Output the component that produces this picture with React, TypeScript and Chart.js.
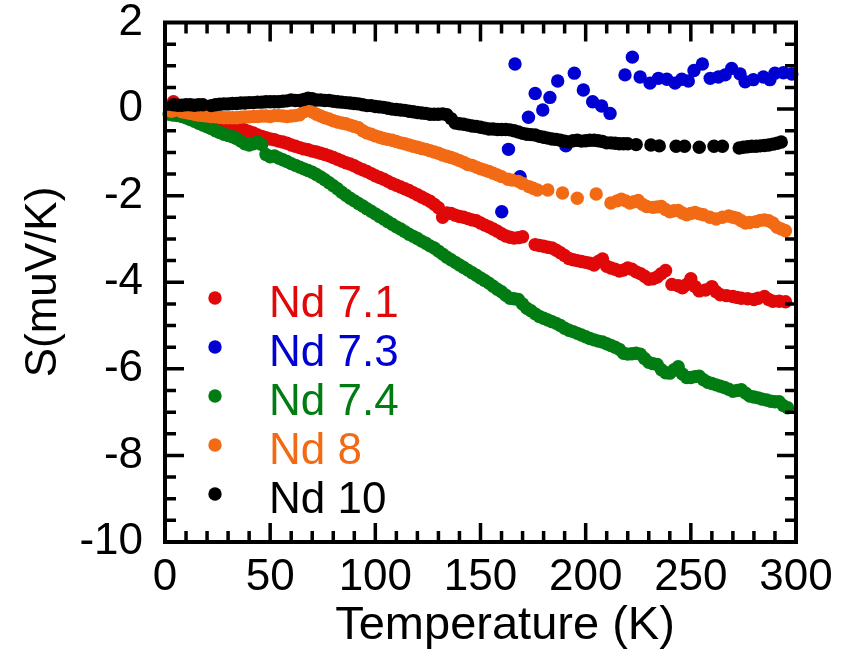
import React, { useEffect, useRef } from "react";
import { Chart, registerables } from "chart.js";

Chart.register(...registerables);

const FONT = "'Liberation Sans', Arial, Helvetica, sans-serif";

const seriesLabels = ["Nd 7.1", "Nd 7.3", "Nd 7.4", "Nd 8", "Nd 10"];
const seriesColors = ["#e00808", "#0000d2", "#007c12", "#f26b14", "#000000"];

const xTitle = "Temperature (K)";
const yTitle = "S(muV/K)";

// [Temperature (K), S (muV/K)]
const nd71: [number, number][] = [
  [4, 0.17], [6, 0.02], [8, -0.05], [10, -0.08], [12, -0.1], [14, -0.12], [16, -0.14], [18, -0.16],
  [20, -0.18], [22, -0.2], [24, -0.22], [26, -0.25], [28, -0.28], [30, -0.32], [32, -0.36], [34, -0.4],
  [36, -0.44], [38, -0.48], [40, -0.52], [42, -0.55], [44, -0.6], [46, -0.63], [48, -0.66], [50, -0.69],
  [52, -0.71], [54, -0.74], [56, -0.76], [58, -0.79], [60, -0.83], [62, -0.86], [64, -0.89], [66, -0.92],
  [68, -0.94], [70, -0.97], [72, -0.99], [74, -1.02], [76, -1.05], [78, -1.08], [80, -1.12], [82, -1.16],
  [84, -1.2], [86, -1.24], [88, -1.27], [90, -1.31], [92, -1.36], [94, -1.4], [96, -1.44], [98, -1.49],
  [100, -1.54], [102, -1.58], [104, -1.62], [106, -1.67], [108, -1.72], [110, -1.76], [112, -1.8], [114, -1.84],
  [116, -1.88], [118, -1.93], [120, -1.98], [122, -2.03], [124, -2.08], [126, -2.13], [128, -2.2], [130, -2.28],
  [132, -2.5], [134, -2.4], [136, -2.41], [138, -2.45], [140, -2.48], [142, -2.5], [144, -2.53], [146, -2.56],
  [148, -2.58], [150, -2.63], [152, -2.68], [154, -2.72], [156, -2.77], [158, -2.82], [160, -2.88], [162, -2.93],
  [164, -2.96], [166, -2.98], [168, -2.97], [170, -2.95], [176, -3.13], [178, -3.15], [180, -3.17], [182, -3.19],
  [184, -3.21], [186, -3.26], [188, -3.32], [190, -3.38], [192, -3.45], [194, -3.48], [196, -3.5], [198, -3.52],
  [200, -3.54], [202, -3.56], [204, -3.6], [206, -3.52], [208, -3.46], [210, -3.63], [212, -3.67], [214, -3.7],
  [216, -3.74], [218, -3.72], [220, -3.67], [222, -3.7], [224, -3.76], [226, -3.8], [228, -3.86], [230, -3.93],
  [232, -3.92], [234, -3.88], [236, -3.8], [238, -3.73], [241, -4.05], [244, -4.08], [246, -4.13], [248, -4.05],
  [250, -3.92], [252, -4.1], [254, -4.2], [257, -4.18], [260, -4.1], [262, -4.22], [264, -4.29], [267, -4.31],
  [270, -4.33], [272, -4.35], [274, -4.37], [277, -4.38], [280, -4.4], [282, -4.37], [285, -4.33], [287, -4.4],
  [289, -4.44], [292, -4.44], [295, -4.45],
];

const nd73: [number, number][] = [
  [160.1, -2.37], [163.3, -0.93], [166.4, 1.04], [168.8, -1.56], [172.8, -0.19], [176, 0.36], [179.6, -0.02],
  [183, 0.27], [186.7, 0.65], [190.6, -0.85], [194.6, 0.83], [198.9, 0.44], [203.3, 0.17], [207.6, 0.07],
  [211.6, -0.1], [218.7, 0.79], [222.2, 1.2], [225.9, 0.74], [230.6, 0.6], [234.6, 0.71], [238.6, 0.69],
  [242.5, 0.6], [245.7, 0.69], [248.8, 0.65], [251.5, 0.89], [255.5, 1.04], [259.2, 0.71], [263.1, 0.74],
  [266.3, 0.79], [269.4, 0.94], [273.4, 0.81], [275.8, 0.63], [279.7, 0.68], [284.5, 0.74], [287.6, 0.68],
  [290, 0.83], [294, 0.84], [298, 0.81],
];

const nd74: [number, number][] = [
  [2, -0.12], [4, -0.14], [6, -0.15], [8, -0.17], [10, -0.2], [12, -0.24], [14, -0.28], [16, -0.33],
  [18, -0.37], [20, -0.41], [22, -0.45], [24, -0.5], [26, -0.54], [28, -0.58], [30, -0.61], [32, -0.64],
  [34, -0.68], [36, -0.74], [38, -0.8], [40, -0.83], [42, -0.8], [44, -0.76], [46, -0.82], [48, -1.05],
  [50, -1.1], [52, -1.08], [54, -1.13], [56, -1.17], [58, -1.21], [60, -1.26], [62, -1.3], [64, -1.34],
  [66, -1.38], [68, -1.42], [70, -1.46], [72, -1.51], [74, -1.57], [76, -1.63], [78, -1.7], [80, -1.77],
  [82, -1.84], [84, -1.92], [86, -1.99], [88, -2.06], [90, -2.12], [92, -2.18], [94, -2.24], [96, -2.3],
  [98, -2.36], [100, -2.42], [102, -2.48], [104, -2.54], [106, -2.6], [108, -2.66], [110, -2.72], [112, -2.77],
  [114, -2.83], [116, -2.89], [118, -2.94], [120, -2.99], [122, -3.05], [124, -3.1], [126, -3.16], [128, -3.21],
  [130, -3.28], [132, -3.35], [134, -3.42], [136, -3.48], [138, -3.54], [140, -3.6], [142, -3.66], [144, -3.72],
  [146, -3.78], [148, -3.84], [150, -3.9], [152, -3.96], [154, -4.02], [156, -4.09], [158, -4.16], [160, -4.22],
  [162, -4.3], [164, -4.37], [166, -4.38], [168, -4.4], [170, -4.5], [172, -4.6], [174, -4.66], [176, -4.73],
  [178, -4.79], [180, -4.83], [182, -4.87], [184, -4.91], [186, -4.95], [188, -5.0], [190, -5.06], [192, -5.11],
  [194, -5.14], [196, -5.18], [198, -5.22], [200, -5.26], [202, -5.3], [204, -5.33], [206, -5.36], [208, -5.38],
  [210, -5.42], [212, -5.46], [214, -5.5], [216, -5.55], [218, -5.64], [220, -5.66], [222, -5.65], [224, -5.64],
  [226, -5.66], [228, -5.76], [230, -5.85], [232, -5.88], [234, -5.9], [236, -6.02], [238, -6.09], [240, -6.1],
  [242, -6.02], [244, -5.95], [246, -6.12], [248, -6.2], [250, -6.2], [252, -6.18], [254, -6.17], [256, -6.25],
  [258, -6.31], [260, -6.34], [262, -6.37], [264, -6.4], [266, -6.43], [268, -6.47], [270, -6.52], [272, -6.5],
  [274, -6.48], [276, -6.56], [278, -6.63], [280, -6.65], [282, -6.67], [284, -6.7], [286, -6.72], [288, -6.75],
  [290, -6.76], [292, -6.76], [294, -6.85], [296, -6.9],
];

const nd8: [number, number][] = [
  [3, -0.05], [5, -0.02], [8, -0.06], [10, -0.08], [12, -0.1], [14, -0.12], [16, -0.14], [18, -0.15],
  [20, -0.16], [22, -0.17], [24, -0.18], [26, -0.19], [28, -0.2], [30, -0.2], [32, -0.2], [34, -0.2],
  [36, -0.19], [38, -0.18], [40, -0.18], [42, -0.17], [44, -0.17], [46, -0.16], [48, -0.16], [50, -0.17],
  [52, -0.15], [54, -0.15], [56, -0.16], [58, -0.17], [60, -0.16], [62, -0.15], [64, -0.13], [66, -0.06],
  [68, -0.03], [70, -0.07], [72, -0.12], [74, -0.16], [76, -0.2], [78, -0.23], [80, -0.27], [82, -0.3],
  [84, -0.32], [86, -0.34], [88, -0.37], [90, -0.4], [92, -0.43], [94, -0.5], [96, -0.55], [98, -0.58],
  [100, -0.62], [102, -0.65], [104, -0.68], [106, -0.7], [108, -0.72], [110, -0.75], [112, -0.78], [114, -0.8],
  [116, -0.83], [118, -0.86], [120, -0.88], [122, -0.91], [124, -0.93], [126, -0.96], [128, -0.99], [130, -1.02],
  [132, -1.06], [134, -1.09], [136, -1.12], [138, -1.15], [140, -1.19], [142, -1.23], [144, -1.28], [146, -1.3],
  [148, -1.34], [150, -1.38], [152, -1.41], [154, -1.44], [156, -1.48], [158, -1.52], [160, -1.56], [163, -1.62],
  [165, -1.64], [168, -1.67], [170, -1.72], [173, -1.79], [175, -1.83], [177, -1.87], [182, -1.87], [189, -1.94],
  [196, -2.06], [205, -1.96], [212, -2.17], [215, -2.12], [217, -2.08], [219, -2.12], [221, -2.17], [223, -2.14],
  [225, -2.11], [227, -2.2], [229, -2.25], [232, -2.27], [234, -2.26], [236, -2.25], [238, -2.32], [240, -2.37],
  [242, -2.35], [244, -2.34], [246, -2.4], [248, -2.44], [250, -2.41], [252, -2.39], [254, -2.42], [256, -2.44],
  [259, -2.5], [262, -2.54], [265, -2.5], [268, -2.47], [270, -2.5], [272, -2.52], [274, -2.58], [276, -2.63],
  [278, -2.62], [281, -2.6], [283, -2.57], [285, -2.56], [287, -2.58], [289, -2.63], [291, -2.73], [293, -2.77],
  [295, -2.81],
];

const nd10: [number, number][] = [
  [4, 0.1], [6, 0.09], [8, 0.09], [10, 0.1], [12, 0.1], [14, 0.09], [16, 0.1], [18, 0.1],
  [22, 0.08], [24, 0.1], [26, 0.11], [28, 0.12], [30, 0.12], [32, 0.13], [34, 0.13], [36, 0.14],
  [38, 0.14], [40, 0.15], [42, 0.15], [44, 0.16], [46, 0.16], [48, 0.17], [50, 0.17], [52, 0.17],
  [54, 0.17], [56, 0.18], [58, 0.19], [60, 0.21], [62, 0.2], [64, 0.2], [66, 0.22], [68, 0.25],
  [70, 0.24], [72, 0.21], [74, 0.21], [76, 0.2], [78, 0.2], [80, 0.18], [82, 0.17], [84, 0.16],
  [86, 0.15], [88, 0.14], [90, 0.13], [92, 0.12], [94, 0.1], [96, 0.08], [98, 0.08], [100, 0.06],
  [102, 0.05], [104, 0.04], [106, 0.02], [108, 0.0], [110, -0.01], [112, -0.02], [114, -0.03], [116, -0.05],
  [118, -0.06], [120, -0.08], [122, -0.09], [124, -0.1], [126, -0.12], [128, -0.12], [130, -0.12], [132, -0.11],
  [134, -0.13], [136, -0.22], [138, -0.32], [140, -0.34], [142, -0.35], [144, -0.37], [146, -0.39], [148, -0.4],
  [150, -0.42], [152, -0.44], [154, -0.46], [156, -0.46], [158, -0.47], [160, -0.47], [162, -0.47], [164, -0.48],
  [166, -0.5], [168, -0.53], [170, -0.56], [172, -0.58], [174, -0.59], [176, -0.6], [178, -0.63], [180, -0.65],
  [182, -0.67], [184, -0.69], [186, -0.7], [188, -0.72], [190, -0.74], [192, -0.76], [194, -0.73], [196, -0.72],
  [198, -0.74], [200, -0.73], [202, -0.72], [204, -0.72], [206, -0.73], [208, -0.75], [210, -0.78], [212, -0.78],
  [214, -0.79], [216, -0.8], [218, -0.8], [220, -0.8], [224, -0.82], [231, -0.83], [235, -0.85], [243, -0.86],
  [247, -0.86], [254, -0.88], [261, -0.86], [265, -0.86], [273, -0.9], [275, -0.88], [277, -0.87], [279, -0.86],
  [281, -0.86], [283, -0.85], [285, -0.84], [287, -0.83], [289, -0.81], [291, -0.79], [293, -0.76],
];

const seriesData = [nd71, nd73, nd74, nd8, nd10];

const X_MIN = 0, X_MAX = 300, X_MAJOR = 50, X_MINOR = 10;
const Y_MIN = -10, Y_MAX = 2, Y_MAJOR = 2, Y_MINOR = 0.5;

const framePlugin = {
  id: "frameTicks",
  afterDatasetsDraw(chart: any) {
    const { ctx, chartArea: a, scales } = chart;
    const xs = scales.x, ys = scales.y;
    ctx.save();
    ctx.strokeStyle = "#000";
    ctx.lineWidth = 4;
    ctx.lineCap = "butt";
    ctx.beginPath();
    ctx.rect(a.left, a.top, a.right - a.left, a.bottom - a.top);
    ctx.stroke();
    const MAJ = 19, MIN = 11;
    ctx.lineWidth = 3.5;
    ctx.beginPath();
    for (let v = X_MIN + X_MINOR; v < X_MAX - 1e-6; v += X_MINOR) {
      const px = xs.getPixelForValue(v);
      const major = Math.abs(v / X_MAJOR - Math.round(v / X_MAJOR)) < 1e-6;
      const len = major ? MAJ : MIN;
      ctx.moveTo(px, a.bottom); ctx.lineTo(px, a.bottom - len);
      ctx.moveTo(px, a.top); ctx.lineTo(px, a.top + len);
    }
    for (let v = Y_MIN + Y_MINOR; v < Y_MAX - 1e-6; v += Y_MINOR) {
      const py = ys.getPixelForValue(v);
      const major = Math.abs(v / Y_MAJOR - Math.round(v / Y_MAJOR)) < 1e-6;
      const len = major ? MAJ : MIN;
      ctx.moveTo(a.left, py); ctx.lineTo(a.left + len, py);
      ctx.moveTo(a.right, py); ctx.lineTo(a.right - len, py);
    }
    ctx.stroke();
    ctx.restore();
  },
  afterDraw(chart: any) {
    const { ctx } = chart;
    ctx.save();
    ctx.fillStyle = "#000";
    // axis titles
    ctx.font = `47px ${FONT}`;
    ctx.textAlign = "center";
    ctx.textBaseline = "alphabetic";
    ctx.fillText(xTitle, 505, 639);
    ctx.font = `44px ${FONT}`;
    ctx.save();
    ctx.translate(56, 282);
    ctx.rotate(-Math.PI / 2);
    ctx.fillText(yTitle, 0, 0);
    ctx.restore();
    // legend
    const rowY = [298, 347, 396, 445, 494];
    ctx.textAlign = "left";
    seriesLabels.forEach((lab, i) => {
      ctx.fillStyle = seriesColors[i];
      ctx.beginPath();
      ctx.arc(215, rowY[i], 6.7, 0, Math.PI * 2);
      ctx.fill();
      ctx.fillText(lab, 269, rowY[i] + 18.5);
    });
    ctx.restore();
  },
};

export default function App() {
  const ref = useRef<HTMLCanvasElement | null>(null);
  useEffect(() => {
    const canvas = ref.current;
    if (!canvas) return;
    const drawOrder = [4, 3, 2, 1, 0];
    const chart = new Chart(canvas, {
      type: "scatter",
      data: {
        datasets: seriesData.map((d, i) => ({
          label: seriesLabels[i],
          data: d.map(([x, y]) => ({ x, y })),
          backgroundColor: seriesColors[i],
          borderColor: seriesColors[i],
          borderWidth: 0,
          pointRadius: 6.7,
          pointHoverRadius: 6.7,
          showLine: false,
          order: drawOrder[i],
          clip: false as any,
        })),
      },
      options: {
        responsive: false,
        animation: false,
        devicePixelRatio: 1,
        layout: { padding: { left: 0, right: 54, top: 22.5, bottom: 0 } },
        plugins: {
          legend: { display: false },
          tooltip: { enabled: false },
          title: { display: false },
        },
        events: [],
        scales: {
          x: {
            type: "linear",
            min: X_MIN,
            max: X_MAX,
            grid: { display: false, drawTicks: false },
            border: { display: false },
            ticks: {
              stepSize: X_MAJOR,
              color: "#000",
              font: { family: FONT, size: 44, lineHeight: 1 },
              padding: 14,
              maxRotation: 0,
              autoSkip: false,
            },
            afterFit: (s: any) => {
              s.height = 110;
              s.paddingLeft = 0;
              s.paddingRight = 0;
            },
          },
          y: {
            type: "linear",
            min: Y_MIN,
            max: Y_MAX,
            grid: { display: false, drawTicks: false },
            border: { display: false },
            ticks: {
              stepSize: Y_MAJOR,
              color: "#000",
              font: { family: FONT, size: 44, lineHeight: 1 },
              padding: 22,
              autoSkip: false,
            },
            afterFit: (s: any) => {
              s.width = 165;
              s.paddingTop = 0;
              s.paddingBottom = 0;
            },
          },
        },
      },
      plugins: [framePlugin],
    });
    return () => chart.destroy();
  }, []);
  return (
    <div style={{ position: "absolute", left: 0, top: 0, width: 850, height: 652, background: "#fff" }}>
      <canvas ref={ref} width={850} height={652} style={{ display: "block", width: 850, height: 652 }} />
    </div>
  );
}
